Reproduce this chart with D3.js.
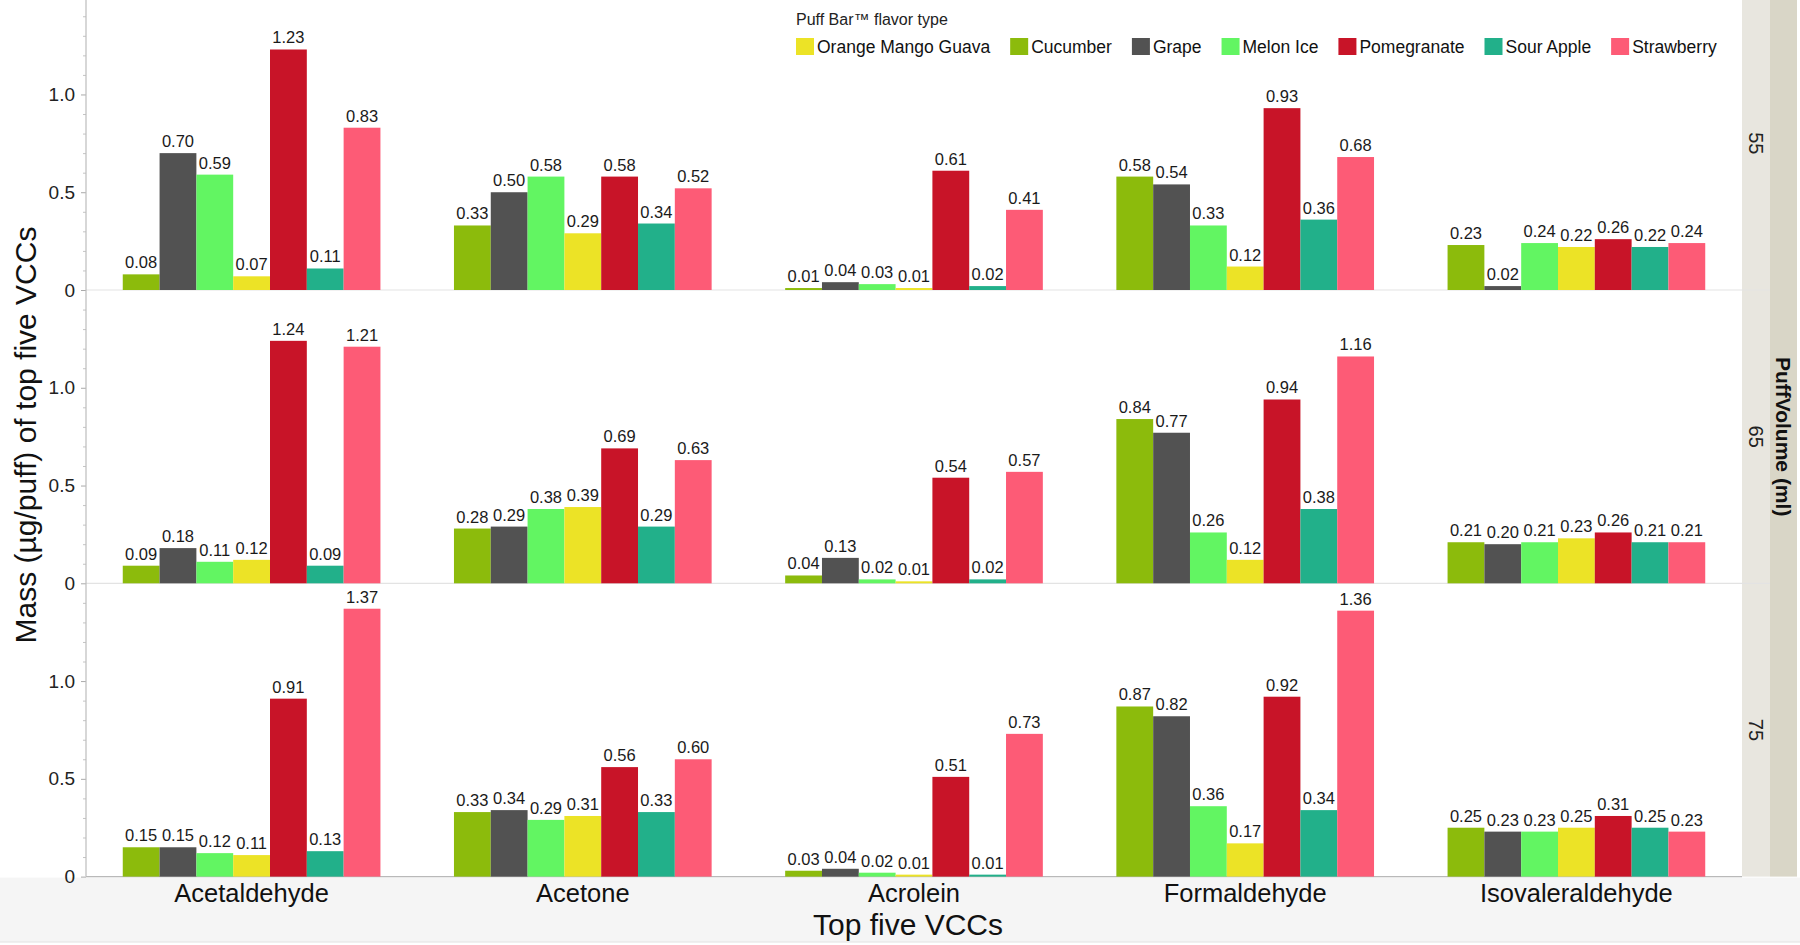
<!DOCTYPE html>
<html>
<head>
<meta charset="utf-8">
<script src="https://cdn.jsdelivr.net/npm/d3@7"></script>
<style>
  body { margin: 0; background: #fff; }
  svg { display: block; font-family: "Liberation Sans", Arial, sans-serif; }
</style>
</head>
<body>
<script>
// categories
const compounds = ["Acetaldehyde", "Acetone", "Acrolein", "Formaldehyde", "Isovaleraldehyde"];
const flavors = ["Cucumber", "Grape", "Melon Ice", "Orange Mango Guava", "Pomegranate", "Sour Apple", "Strawberry"];
const legendOrder = ["Orange Mango Guava", "Cucumber", "Grape", "Melon Ice", "Pomegranate", "Sour Apple", "Strawberry"];
const puffVolumes = ["55", "65", "75"];
const colors = ["#8cbb0c", "#525252", "#62f562", "#ece326", "#c81428", "#22b08a", "#fd5b76"];

// values: one row per compound, one value per flavor (bar order)
const vol55 = [
  [0.08, 0.70, 0.59, 0.07, 1.23, 0.11, 0.83],
  [0.33, 0.50, 0.58, 0.29, 0.58, 0.34, 0.52],
  [0.01, 0.04, 0.03, 0.01, 0.61, 0.02, 0.41],
  [0.58, 0.54, 0.33, 0.12, 0.93, 0.36, 0.68],
  [0.23, 0.02, 0.24, 0.22, 0.26, 0.22, 0.24]
];
const vol65 = [
  [0.09, 0.18, 0.11, 0.12, 1.24, 0.09, 1.21],
  [0.28, 0.29, 0.38, 0.39, 0.69, 0.29, 0.63],
  [0.04, 0.13, 0.02, 0.01, 0.54, 0.02, 0.57],
  [0.84, 0.77, 0.26, 0.12, 0.94, 0.38, 1.16],
  [0.21, 0.20, 0.21, 0.23, 0.26, 0.21, 0.21]
];
const vol75 = [
  [0.15, 0.15, 0.12, 0.11, 0.91, 0.13, 1.37],
  [0.33, 0.34, 0.29, 0.31, 0.56, 0.33, 0.60],
  [0.03, 0.04, 0.02, 0.01, 0.51, 0.01, 0.73],
  [0.87, 0.82, 0.36, 0.17, 0.92, 0.34, 1.36],
  [0.25, 0.23, 0.23, 0.25, 0.31, 0.25, 0.23]
];
const panels = [vol55, vol65, vol75];

const majorTicks = [0, 0.5, 1.0];
const minorTicks = [0.1, 0.2, 0.3, 0.4, 0.6, 0.7, 0.8, 0.9, 1.1, 1.2, 1.3, 1.4];

//////////////////////////////////////////////////

const width = 1800;
const height = 945;
const plotLeft = 86;
const plotRight = 1742;
const panelTop = -3.3;
const panelH = 293.3;

const color = d3.scaleOrdinal().domain(flavors).range(colors);

const x0 = d3.scaleBand()
  .domain(compounds)
  .range([plotLeft, plotRight])
  .paddingInner(0.222)
  .paddingOuter(0.111);

const x1 = d3.scaleBand()
  .domain(flavors)
  .range([0, x0.bandwidth()]);

const y = d3.scaleLinear()
  .domain([0, 1.5])
  .range([panelH, 0]);

const svg = d3.select("body").append("svg")
  .attr("width", width)
  .attr("height", height);

// footer band and the grey strip on the right
svg.append("rect")
  .attr("x", 0).attr("y", panelTop + 3 * panelH + 1)
  .attr("width", width).attr("height", height - 3 - (panelTop + 3 * panelH + 1))
  .attr("fill", "#f5f5f5");
svg.append("line")
  .attr("x1", 0).attr("x2", width)
  .attr("y1", height - 3).attr("y2", height - 3)
  .attr("stroke", "#e2e2e2");

svg.append("rect")
  .attr("x", plotRight).attr("y", 0)
  .attr("width", 28).attr("height", panelTop + 3 * panelH)
  .attr("fill", "#e8e6df");
svg.append("rect")
  .attr("x", plotRight + 28).attr("y", 0)
  .attr("width", 27).attr("height", panelTop + 3 * panelH)
  .attr("fill", "#d9d6c7");

svg.append("text")
  .attr("transform", "translate(" + (plotRight + 41) + "," + (panelTop + 1.5 * panelH) + ") rotate(90)")
  .attr("text-anchor", "middle")
  .attr("dominant-baseline", "central")
  .style("font-size", "21px")
  .style("font-weight", "bold")
  .attr("fill", "#111")
  .text("PuffVolume (ml)");

// panels
panels.forEach(function(rows, i) {
  const g = svg.append("g")
    .attr("transform", "translate(0," + (panelTop + i * panelH) + ")");

  // separator / baseline
  g.append("line")
    .attr("x1", plotLeft).attr("x2", i < 2 ? plotRight + 28 : plotRight)
    .attr("y1", y(0)).attr("y2", y(0))
    .attr("stroke", i < 2 ? "#e3e3e3" : "#b9b9b9")
    .attr("stroke-width", 1.2);

  // y axis ticks
  const yAxis = d3.axisLeft(y)
    .tickValues(majorTicks)
    .tickFormat(function(d) { return d === 0 ? "0" : d3.format(".1f")(d); })
    .tickSize(5)
    .tickPadding(6);
  const ax = g.append("g")
    .attr("transform", "translate(" + plotLeft + ",0)")
    .call(yAxis);
  ax.select(".domain").remove();
  ax.selectAll(".tick line").attr("stroke", "#aaa");
  ax.selectAll(".tick text")
    .style("font-size", "19px")
    .attr("fill", "#222")
    .attr("font-family", "'Liberation Sans', Arial, sans-serif");

  g.append("g")
    .attr("transform", "translate(" + plotLeft + ",0)")
    .call(d3.axisLeft(y).tickValues(minorTicks).tickSize(3).tickFormat(""))
    .call(function(s) {
      s.select(".domain").remove();
      s.selectAll(".tick line").attr("stroke", "#c4c4c4");
    });

  // strip label
  g.append("text")
    .attr("transform", "translate(" + (plotRight + 14) + "," + (panelH / 2) + ") rotate(90)")
    .attr("text-anchor", "middle")
    .attr("dominant-baseline", "central")
    .style("font-size", "20px")
    .attr("fill", "#222")
    .text(puffVolumes[i]);

  // bars
  const groups = g.selectAll(".grp")
    .data(rows)
    .enter().append("g")
    .attr("transform", function(d, j) { return "translate(" + x0(compounds[j]) + ",0)"; });

  const cells = groups.selectAll(".bar")
    .data(function(d) { return d.map(function(v, k) { return { flavor: flavors[k], value: v }; }); })
    .enter();

  cells.append("rect")
    .attr("x", function(d) { return x1(d.flavor); })
    .attr("y", function(d) { return y(d.value); })
    .attr("width", x1.bandwidth())
    .attr("height", function(d) { return y(0) - y(d.value); })
    .attr("fill", function(d) { return color(d.flavor); });

  cells.append("text")
    .attr("x", function(d) { return x1(d.flavor) + x1.bandwidth() / 2; })
    .attr("y", function(d) { return y(d.value) - 6; })
    .attr("text-anchor", "middle")
    .style("font-size", "16.5px")
    .attr("fill", "#1a1a1a")
    .text(function(d) { return d3.format(".2f")(d.value); });
});

// left axis line
svg.append("line")
  .attr("x1", plotLeft).attr("x2", plotLeft)
  .attr("y1", 0).attr("y2", panelTop + 3 * panelH)
  .attr("stroke", "#bdbdbd")
  .attr("stroke-width", 1.2);

// x category labels
svg.selectAll(".xlab")
  .data(compounds)
  .enter().append("text")
  .attr("x", function(d) { return x0(d) + x0.bandwidth() / 2; })
  .attr("y", 902)
  .attr("text-anchor", "middle")
  .style("font-size", "25.5px")
  .attr("fill", "#111")
  .text(function(d) { return d; });

// axis titles
svg.append("text")
  .attr("x", (plotLeft + plotRight) / 2 - 6)
  .attr("y", 935)
  .attr("text-anchor", "middle")
  .style("font-size", "30px")
  .attr("fill", "#111")
  .text("Top five VCCs");

svg.append("text")
  .attr("transform", "translate(36,435) rotate(-90)")
  .attr("text-anchor", "middle")
  .style("font-size", "30px")
  .attr("fill", "#111")
  .text("Mass (\u00b5g/puff) of top five VCCs");

// legend
const legend = svg.append("g").attr("transform", "translate(796,0)");
legend.append("text")
  .attr("x", 0).attr("y", 25)
  .style("font-size", "16px")
  .attr("fill", "#222")
  .text("Puff Bar\u2122 flavor type");

let lx = 0;
legendOrder.forEach(function(f) {
  const item = legend.append("g").attr("transform", "translate(" + lx + ",38)");
  item.append("rect")
    .attr("width", 18).attr("height", 17)
    .attr("fill", color(f));
  const t = item.append("text")
    .attr("x", 21).attr("y", 14.5)
    .style("font-size", "17.5px")
    .attr("fill", "#111")
    .text(f);
  lx += 21 + t.node().getComputedTextLength() + 20;
});
</script>
</body>
</html>
